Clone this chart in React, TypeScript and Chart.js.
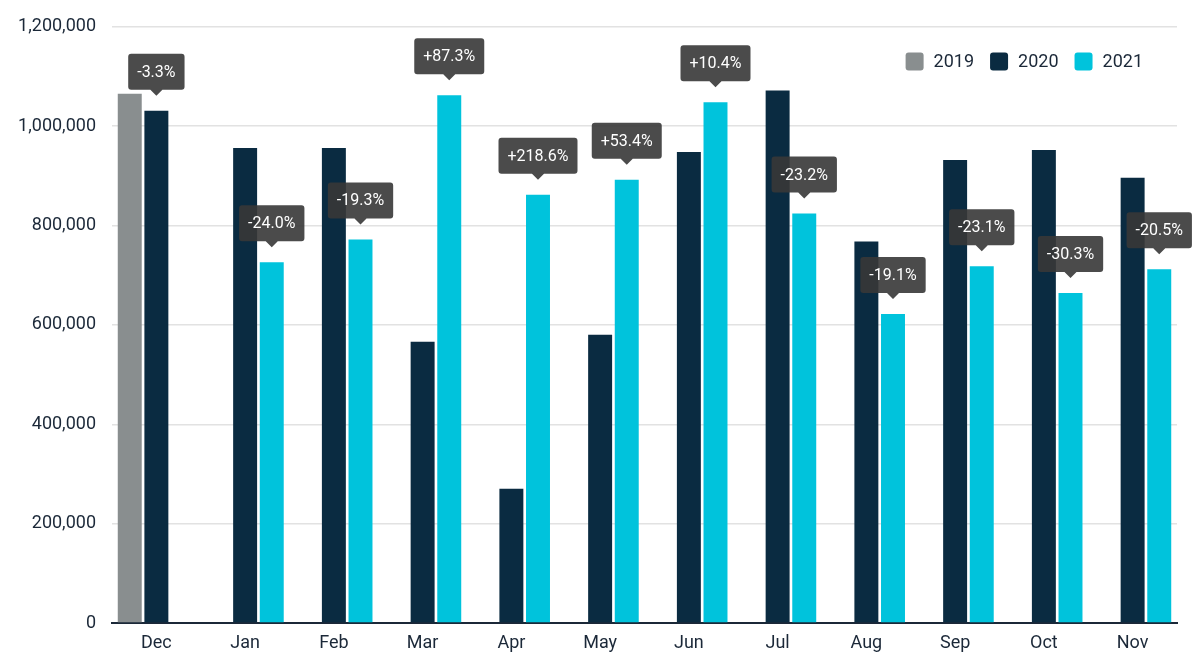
import React, { useEffect, useRef } from "react";
import { Chart, registerables } from "chart.js";

Chart.register(...registerables);

const categories = ["Dec", "Jan", "Feb", "Mar", "Apr", "May", "Jun", "Jul", "Aug", "Sep", "Oct", "Nov"];
const values2019 = [1065000, null, null, null, null, null, null, null, null, null, null, null];
const values2020 = [1031000, 956000, 956000, 566000, 270000, 580000, 948000, 1072000, 768000, 932000, 952000, 896000];
const values2021 = [null, 726000, 772000, 1062000, 862000, 892000, 1048000, 824000, 622000, 718000, 664000, 712000];
const changeLabels = ["-3.3%", "-24.0%", "-19.3%", "+87.3%", "+218.6%", "+53.4%", "+10.4%", "-23.2%", "-19.1%", "-23.1%", "-30.3%", "-20.5%"];
const seriesNames = ["2019", "2020", "2021"];
const seriesColors = ["#898e8f", "#0a2b41", "#00c3dc"];

const FONT = "Roboto, 'Noto Sans', sans-serif";
const TEXT = "#1b2838";

const calloutPlugin = {
  id: "callouts",
  afterDatasetsDraw(chart: any) {
    const ctx = chart.ctx;
    ctx.save();
    ctx.font = `16px ${FONT}`;
    changeLabels.forEach((text, i) => {
      const dsIndex = values2021[i] != null ? 2 : 1;
      const el = chart.getDatasetMeta(dsIndex).data[i];
      if (!el) return;
      const x = el.x;
      const tipY = el.y - 15;
      const boxBottom = tipY - 6;
      const h = 36;
      const boxTop = boxBottom - h;
      const w = ctx.measureText(text).width + 18;
      const l = x - w / 2;
      const r = x + w / 2;
      const rad = 3;
      ctx.beginPath();
      ctx.moveTo(l + rad, boxTop);
      ctx.lineTo(r - rad, boxTop);
      ctx.quadraticCurveTo(r, boxTop, r, boxTop + rad);
      ctx.lineTo(r, boxBottom - rad);
      ctx.quadraticCurveTo(r, boxBottom, r - rad, boxBottom);
      ctx.lineTo(x + 6, boxBottom);
      ctx.lineTo(x, tipY);
      ctx.lineTo(x - 6, boxBottom);
      ctx.lineTo(l + rad, boxBottom);
      ctx.quadraticCurveTo(l, boxBottom, l, boxBottom - rad);
      ctx.lineTo(l, boxTop + rad);
      ctx.quadraticCurveTo(l, boxTop, l + rad, boxTop);
      ctx.closePath();
      ctx.fillStyle = "rgba(55,55,55,0.9)";
      ctx.fill();
      ctx.fillStyle = "#ffffff";
      ctx.textAlign = "center";
      ctx.textBaseline = "middle";
      ctx.fillText(text, x, boxTop + h / 2 + 1);
    });
    ctx.restore();
  },
};

const legendPlugin = {
  id: "cornerLegend",
  afterDraw(chart: any) {
    const ctx = chart.ctx;
    ctx.save();
    ctx.font = `18px ${FONT}`;
    const box = 18;
    const gapText = 10;
    const gapItem = 16;
    const items = chart.data.datasets.map((d: any) => ({
      label: d.label,
      color: d.backgroundColor,
      tw: ctx.measureText(d.label).width,
    }));
    const total = items.reduce((s: number, it: any) => s + box + gapText + it.tw, 0) + gapItem * (items.length - 1);
    let x = chart.chartArea.right - 34 - total;
    const cy = 61.5;
    items.forEach((it: any) => {
      ctx.fillStyle = it.color;
      ctx.beginPath();
      (ctx as any).roundRect(x, cy - box / 2, box, box, 3);
      ctx.fill();
      ctx.fillStyle = TEXT;
      ctx.textAlign = "left";
      ctx.textBaseline = "middle";
      ctx.fillText(it.label, x + box + gapText, cy + 1);
      x += box + gapText + it.tw + gapItem;
    });
    ctx.restore();
  },
};

export default function App() {
  const canvasRef = useRef<HTMLCanvasElement | null>(null);

  useEffect(() => {
    document.body.style.margin = "0";
    const canvas = canvasRef.current;
    if (!canvas) return;
    const chart = new Chart(canvas, {
      type: "bar",
      data: {
        labels: categories,
        datasets: [
          { label: seriesNames[0], data: values2019, backgroundColor: seriesColors[0] },
          { label: seriesNames[1], data: values2020, backgroundColor: seriesColors[1] },
          { label: seriesNames[2], data: values2021, backgroundColor: seriesColors[2] },
        ],
      },
      options: {
        animation: false,
        responsive: false,
        maintainAspectRatio: false,
        layout: { padding: { top: 24, right: 23, bottom: 0, left: 0 } },
        datasets: { bar: { categoryPercentage: 0.9, barPercentage: 0.9 } },
        plugins: {
          legend: { display: false },
          tooltip: { enabled: false },
        },
        scales: {
          x: {
            grid: { display: false, drawTicks: false },
            border: { display: true, color: TEXT, width: 2 },
            ticks: { color: TEXT, font: { family: FONT, size: 18 }, padding: 10 },
            afterFit: (scale: any) => {
              scale.height = 39;
            },
          },
          y: {
            min: 0,
            max: 1200000,
            grid: { color: "#e2e2e2", lineWidth: 1.5, drawTicks: false },
            border: { display: false },
            ticks: {
              stepSize: 200000,
              color: TEXT,
              font: { family: FONT, size: 18 },
              padding: 16,
              callback: (v: any) => Number(v).toLocaleString("en-US"),
            },
            afterFit: (scale: any) => {
              scale.width = 112;
            },
          },
        },
      },
      plugins: [calloutPlugin, legendPlugin],
    });
    return () => chart.destroy();
  }, []);

  return (
    <div style={{ position: "fixed", left: 0, top: 0, width: 1200, height: 662, background: "#fff" }}>
      <canvas ref={canvasRef} width={1200} height={662} style={{ width: 1200, height: 662 }} />
    </div>
  );
}
